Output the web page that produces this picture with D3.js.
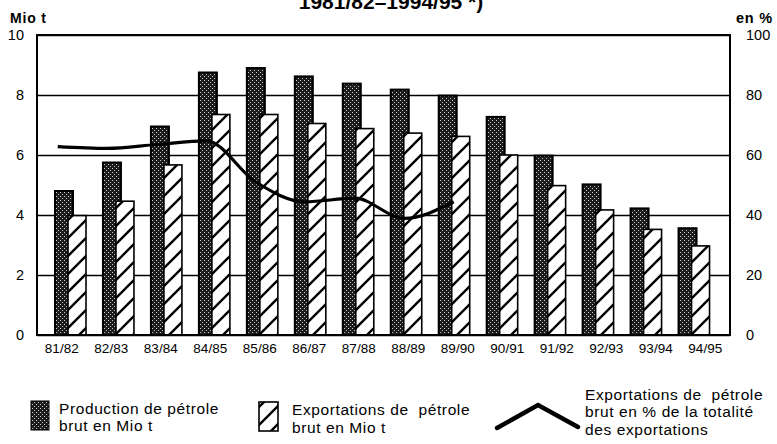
<!DOCTYPE html>
<html>
<head>
<meta charset="utf-8">
<script src="https://cdn.jsdelivr.net/npm/d3@7"></script>
<style>
  body { margin: 0; background: #fff; }
  text { font-family: "Liberation Sans", Arial, sans-serif; fill: #000; }
</style>
</head>
<body>
<div id="chart"></div>
<script>
// data
const seasons = ["81/82", "82/83", "83/84", "84/85", "85/86", "86/87", "87/88",
                 "88/89", "89/90", "90/91", "91/92", "92/93", "93/94", "94/95"];
const production = [4.8, 5.75, 6.95, 8.75, 8.9, 8.62, 8.38, 8.18, 7.98, 7.27, 5.98, 5.02, 4.22, 3.56];
const exportsMt = [3.98, 4.46, 5.67, 7.35, 7.35, 7.05, 6.88, 6.73, 6.62, 6.0, 4.98, 4.17, 3.52, 2.97];
const exportPct = [62.8, 62.2, 63.5, 64.7, 51, 44.4, 45.6, 38.9, 44.4, null, null, null, null, null];
const leftTicks = [0, 2, 4, 6, 8, 10];
const rightTicks = [0, 20, 40, 60, 80, 100];

const width = 777, height = 444;
const plotLeft = 37, plotRight = 730, plotTop = 35, plotBottom = 335;

const svg = d3.select("#chart").append("svg")
    .attr("width", width)
    .attr("height", height);

// patterns
const defs = svg.append("defs");
const dots = defs.append("pattern")
    .attr("id", "dots")
    .attr("patternUnits", "userSpaceOnUse")
    .attr("width", 4).attr("height", 4);
dots.append("rect").attr("width", 4).attr("height", 4).attr("fill", "#1c1c1c");
dots.append("rect").attr("x", 0).attr("y", 0).attr("width", 1).attr("height", 1).attr("fill", "#cfcfcf");
dots.append("rect").attr("x", 2).attr("y", 2).attr("width", 1).attr("height", 1).attr("fill", "#bdbdbd");

const hatch = defs.append("pattern")
    .attr("id", "hatch")
    .attr("patternUnits", "userSpaceOnUse")
    .attr("width", 18).attr("height", 18);
hatch.append("rect").attr("width", 18).attr("height", 18).attr("fill", "#fff");
hatch.append("path")
    .attr("d", "M-2,20 L20,-2 M-2,2 L2,-2 M16,20 L20,16")
    .attr("stroke", "#000").attr("stroke-width", 2.4);

// scales
const x = d3.scaleBand().domain(seasons).range([plotLeft, plotRight]);
const xb = d3.scaleBand().domain(seasons).range([47, 718.5]);
const y = d3.scaleLinear().domain([0, 10]).range([plotBottom, plotTop]);
const yp = d3.scaleLinear().domain([0, 100]).range([plotBottom, plotTop]);

// gridlines
svg.append("g")
    .attr("transform", `translate(${plotLeft},0)`)
    .call(d3.axisLeft(y).tickValues(leftTicks).tickSize(-(plotRight - plotLeft)).tickFormat(""))
    .call(g => g.select(".domain").remove())
    .call(g => g.selectAll("line").attr("stroke", "#000").attr("stroke-width", 1.4));

// left axis labels
svg.append("g")
    .attr("transform", `translate(${plotLeft},0)`)
    .call(d3.axisLeft(y).tickValues(leftTicks).tickSize(0).tickPadding(13))
    .call(g => g.select(".domain").remove())
    .call(g => g.selectAll("text").attr("font-size", 14.5).attr("font-family", "Liberation Sans, Arial, sans-serif"));

// right axis labels
svg.append("g")
    .attr("transform", `translate(${plotRight},0)`)
    .call(d3.axisRight(yp).tickValues(rightTicks).tickSize(0).tickPadding(16))
    .call(g => g.select(".domain").remove())
    .call(g => g.selectAll("text").attr("font-size", 14.5).attr("font-family", "Liberation Sans, Arial, sans-serif"));

// bars
svg.append("g").selectAll("rect")
    .data(seasons)
    .join("rect")
    .attr("x", (d) => xb(d) + 8)
    .attr("y", (d, i) => y(production[i]))
    .attr("width", 18)
    .attr("height", (d, i) => y(0) - y(production[i]))
    .attr("fill", "url(#dots)")
    .attr("stroke", "#000")
    .attr("stroke-width", 2);

svg.append("g").selectAll("rect")
    .data(seasons)
    .join("rect")
    .attr("x", (d) => xb(d) + 21)
    .attr("y", (d, i) => y(exportsMt[i]))
    .attr("width", 18)
    .attr("height", (d, i) => y(0) - y(exportsMt[i]))
    .attr("fill", "url(#hatch)")
    .attr("stroke", "#000")
    .attr("stroke-width", 1.6);

// line
const line = d3.line()
    .defined(d => d[1] != null)
    .x(d => x(d[0]) + x.bandwidth() / 2 - 4)
    .y(d => yp(d[1]))
    .curve(d3.curveMonotoneX);

svg.append("path")
    .datum(seasons.map((s, i) => [s, exportPct[i]]))
    .attr("d", line)
    .attr("fill", "none")
    .attr("stroke", "#000")
    .attr("stroke-width", 3.2)
    .attr("stroke-linejoin", "round");

// frame
svg.append("rect")
    .attr("x", plotLeft).attr("y", plotTop)
    .attr("width", plotRight - plotLeft).attr("height", plotBottom - plotTop)
    .attr("fill", "none")
    .attr("stroke", "#000")
    .attr("stroke-width", 2);

// category labels
svg.append("g")
    .attr("transform", `translate(0,${plotBottom})`)
    .call(d3.axisBottom(x).tickSize(0).tickPadding(8))
    .call(g => g.select(".domain").remove())
    .call(g => g.selectAll("text").attr("font-size", 13.5).attr("font-family", "Liberation Sans, Arial, sans-serif"));

// titles
svg.append("text")
    .attr("x", 391).attr("y", 9)
    .attr("text-anchor", "middle")
    .attr("font-size", 21)
    .attr("font-weight", "bold")
    .text("1981/82–1994/95 *)");

svg.append("text")
    .attr("x", 10).attr("y", 23)
    .attr("font-size", 14)
    .attr("font-weight", "bold")
    .attr("letter-spacing", 0.8)
    .text("Mio t");

svg.append("text")
    .attr("x", 773).attr("y", 23)
    .attr("text-anchor", "end")
    .attr("font-size", 14.5)
    .attr("font-weight", "bold")
    .attr("letter-spacing", 0.8)
    .text("en %");

// legend
const legend = svg.append("g")
    .attr("font-size", 15.5)
    .attr("letter-spacing", 0.6);
legend.append("rect")
    .attr("x", 31).attr("y", 401).attr("width", 18).attr("height", 29)
    .attr("fill", "url(#dots)").attr("stroke", "#000").attr("stroke-width", 1);
legend.append("text").attr("x", 59).attr("y", 414).text("Production de pétrole");
legend.append("text").attr("x", 59).attr("y", 431).text("brut en Mio t");

legend.append("rect")
    .attr("x", 259).attr("y", 402).attr("width", 19).attr("height", 29)
    .attr("fill", "url(#hatch)").attr("stroke", "#000").attr("stroke-width", 1.6);
legend.append("text").attr("x", 292).attr("y", 415).attr("xml:space", "preserve").text("Exportations de  pétrole");
legend.append("text").attr("x", 292).attr("y", 433).text("brut en Mio t");

legend.append("path")
    .attr("d", "M497,428 L538,405 L578,427")
    .attr("fill", "none").attr("stroke", "#000").attr("stroke-width", 4.5)
    .attr("stroke-linecap", "round");
legend.append("text").attr("x", 585).attr("y", 400).attr("xml:space", "preserve").text("Exportations de  pétrole");
legend.append("text").attr("x", 585).attr("y", 417).text("brut en % de la totalité");
legend.append("text").attr("x", 585).attr("y", 435).text("des exportations");
</script>
</body>
</html>
